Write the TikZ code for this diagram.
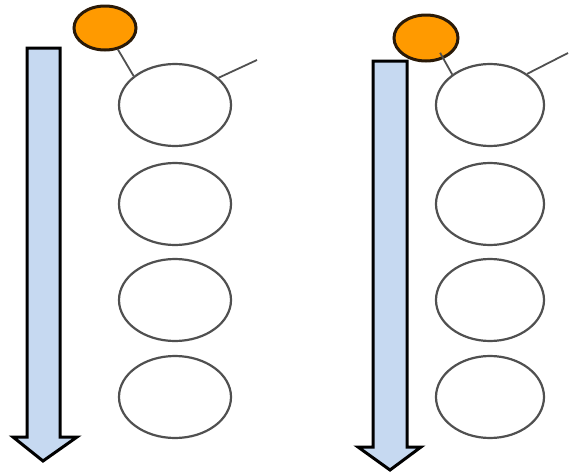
\documentclass[tikz,border=0pt]{standalone}
\usetikzlibrary{shapes.geometric}
\definecolor{arrowblue}{HTML}{C6D9F1}
\definecolor{ballorange}{HTML}{FF9A00}
\definecolor{ringgray}{HTML}{505050}
\definecolor{balledge}{HTML}{2A1A08}
\tikzset{
  ring/.style={ellipse,draw=ringgray,line width=2.2pt,fill=white,minimum width=112pt,minimum height=82pt,inner sep=0pt},
  ball/.style={ellipse,draw=balledge,line width=3pt,fill=ballorange,minimum width=62pt,minimum height=44pt,inner sep=0pt},
  stick/.style={draw=ringgray,line width=1.8pt},
  downarrow/.style={draw=black,line width=3pt,fill=arrowblue,line join=miter}
}
\begin{document}
\begin{tikzpicture}[x=1pt,y=-1pt]
\useasboundingbox (0,0) rectangle (574,474);
% arrows
\path[downarrow] (27,48) -- (60,48) -- (60,437) -- (77,437) -- (43,461) -- (13,437) -- (27,437) -- cycle;
\path[downarrow] (373,61) -- (407,61) -- (407,447) -- (421,447) -- (390,470) -- (358,447) -- (373,447) -- cycle;
% left column
\node[ring] (l1) at (175,105) {};
\node[ring] (l2) at (175,204) {};
\node[ring] (l3) at (175,300) {};
\node[ring] (l4) at (175,397) {};
\node[ball] (lb) at (105,28) {};
\coordinate (lend) at (257,60);
\draw[stick] (lb.-59) -- (l1.145);
\draw[stick] (l1.32) -- (lend);
% right column
\node[ring,minimum width=108pt] (r1) at (490,105) {};
\node[ring,minimum width=108pt] (r2) at (490,204) {};
\node[ring,minimum width=108pt] (r3) at (490,300) {};
\node[ring,minimum width=108pt] (r4) at (490,397) {};
\node[ball,minimum width=64pt,minimum height=46pt] (rb) at (426,38) {};
\coordinate (rend) at (568,53);
\draw[stick,shorten <=-7pt] (rb.-50) -- (r1.141);
\draw[stick] (r1.40) -- (rend);
\end{tikzpicture}
\end{document}
